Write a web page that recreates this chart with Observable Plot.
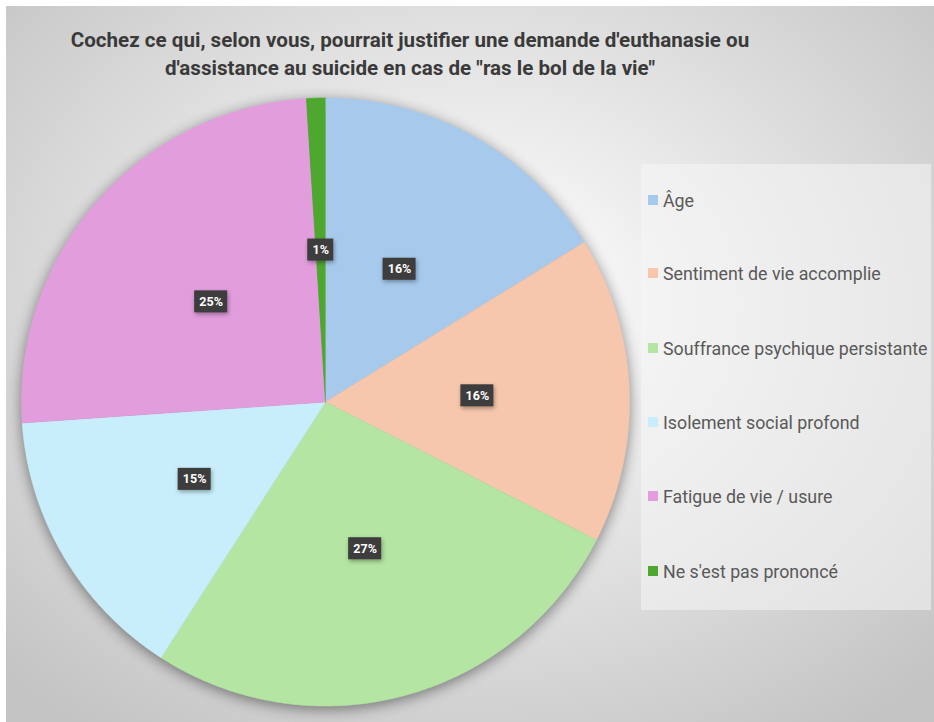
<!DOCTYPE html>
<html><head><meta charset="utf-8">
<script src="https://cdn.jsdelivr.net/npm/d3@7"></script>
<script src="https://cdn.jsdelivr.net/npm/@observablehq/plot@0.6"></script>
<style>
body{margin:0;background:#fff;width:934px;height:722px;overflow:hidden;}
#chart{position:absolute;left:6px;top:6px;width:928px;height:716px;overflow:hidden;
 background: radial-gradient(ellipse 70% 72% at 50% 42%, #ffffff 0%, #f4f4f4 22%, #dedede 58%, #c4c4c4 100%);}
#title{position:absolute;left:0;top:20px;width:808px;text-align:center;font-family:Roboto,"Noto Sans",sans-serif;
 font-weight:700;font-size:20.6px;line-height:28px;color:#3a3a3a;white-space:nowrap;}
#legend{position:absolute;left:635px;top:158px;width:290px;height:446px;background:rgba(245,245,245,0.55);}
.item{position:absolute;left:7px;height:20px;display:flex;align-items:center;font-family:Roboto,"Noto Sans",sans-serif;font-size:17.8px;color:#595959;white-space:nowrap;}
.sw{width:10px;height:10px;margin-right:5px;flex:none;}
#plot{position:absolute;left:0;top:0;}
</style></head>
<body>
<div id="chart">
  <div id="title">Cochez ce qui, selon vous, pourrait justifier une demande d'euthanasie ou<br>d'assistance au suicide en cas de "ras le bol de la vie"</div>
  <div id="plot"></div>
  <div id="legend"></div>
</div>
<script>
const categories = ["Âge","Sentiment de vie accomplie","Souffrance psychique persistante","Isolement social profond","Fatigue de vie / usure","Ne s'est pas prononcé"];
const values = [16.2, 16.3, 26.6, 14.8, 25.1, 1.0];
const colors = ["#a6c9ec","#f6c6ad","#b4e5a2","#c9eefb","#e29ddd","#4ea72e"];

const pie = d3.pie().sort(null).value(d => d.value)(categories.map((c,i)=>({cat:c,value:values[i]})));
const total = d3.sum(values);

// slice outlines (centre + arc) built from the pie angles
const outline = [];
for (const s of pie) {
  outline.push({cat:s.data.cat, x:0, y:0});
  const n = Math.max(4, Math.ceil((s.endAngle - s.startAngle) / (Math.PI/360)));
  for (let k=0;k<=n;k++){
    const a = s.startAngle + (s.endAngle - s.startAngle)*k/n;
    outline.push({cat:s.data.cat, x:Math.sin(a), y:Math.cos(a)});
  }
}
const labels = pie.map(s => {
  const m = (s.startAngle + s.endAngle)/2;
  return {cat:s.data.cat, x:0.5*Math.sin(m), y:0.5*Math.cos(m), label: Math.round(s.data.value/total*100) + "%"};
});

const W = 928, H = 716, cx = 319, cy = 395.5, R = 304;
const chart = Plot.plot({
  width: W, height: H,
  marginLeft: cx - R, marginRight: W - cx - R, marginTop: cy - R, marginBottom: H - cy - R,
  x: {domain:[-1,1], axis:null},
  y: {domain:[-1,1], axis:null},
  color: {domain: categories, range: colors, legend:false},
  style: {background:"transparent", overflow:"visible"},
  marks: [
    Plot.line(outline, {x:"x", y:"y", z:"cat", fill:"cat", stroke:"cat", strokeWidth:0.6, curve:"linear"}),
    Plot.text(labels, {x:"x", y:"y", text:"label", fill:"white", fontWeight:"bold", fontSize:12.5,
      fontFamily:"Roboto, 'Noto Sans', sans-serif",
      render(index, scales, vals, dims, context, next){
        const node = next(index, scales, vals, dims, context);
        const g = d3.create("svg:g");
        for (const i of index){
          const w = 12 + 7*labels[i].label.length;
          g.append("rect").attr("x", vals.x[i]-w/2).attr("y", vals.y[i]-11)
            .attr("width", w).attr("height", 22).attr("fill", "#3d3d3d")
            .style("filter","drop-shadow(1px 2px 2px rgba(0,0,0,0.35))");
        }
        g.node().appendChild(node);
        return g.node();
      }})
  ]
});
d3.select(chart).select('g[aria-label="line"]').style("filter","drop-shadow(0px 3px 7px rgba(0,0,0,0.45))");
document.getElementById("plot").appendChild(chart);

const legend = d3.select("#legend");
const ys = [36, 109, 184, 258, 332, 407];
categories.forEach((c,i)=>{
  const it = legend.append("div").attr("class","item").style("top", (ys[i]-10)+"px");
  it.append("div").attr("class","sw").style("background", colors[i]);
  it.append("span").text(c);
});
</script>
</body></html>
